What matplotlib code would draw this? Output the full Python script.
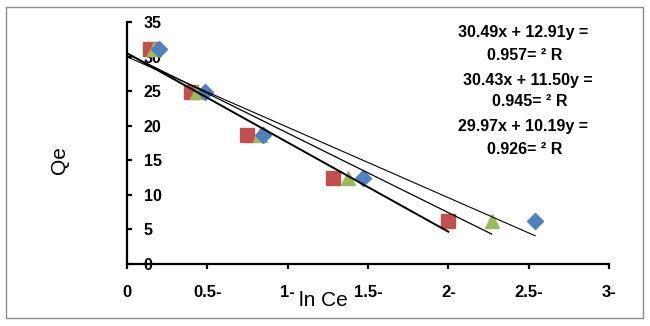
import matplotlib.pyplot as plt
import matplotlib.patches as mpatches

plt.rcParams['font.family'] = ['Liberation Sans', 'DejaVu Sans']

# data (ln Ce is negative, axis runs 0 -> -3)
qe = [31.1, 24.9, 18.7, 12.45, 6.2]
lnce_red = [-0.143, -0.40, -0.747, -1.28, -2.0]
lnce_green = [-0.17, -0.436, -0.83, -1.375, -2.27]
lnce_blue = [-0.199, -0.485, -0.846, -1.468, -2.54]

# trendlines y = slope*x + intercept
slopes = [12.91, 11.50, 10.19]
intercepts = [30.49, 30.43, 29.97]
r2 = [0.957, 0.945, 0.926]

xticks = [0, -0.5, -1, -1.5, -2, -2.5, -3]
xticklabels = ['0', '0.5-', '1-', '1.5-', '2-', '2.5-', '3-']
yticks = [0, 5, 10, 15, 20, 25, 30, 35]

W, H = 650, 326
fig = plt.figure(figsize=(6.5, 3.26), dpi=100)
ax = fig.add_axes([127 / W, 1 - 264 / H, 482 / W, 242 / H])

ax.plot(lnce_red, qe, 's', color='#C0504D', ms=9.5, zorder=2)
ax.plot(lnce_green, qe, '^', color='#9BBB59', ms=10, zorder=2)
ax.plot(lnce_blue, qe, 'D', color='#4F81BD', ms=8, zorder=2)

ends = [min(lnce_red), min(lnce_green), min(lnce_blue)]
widths = [1.4, 0.9, 0.8]
for m, b, e, lw in zip(slopes, intercepts, ends, widths):
    xs = [0, e]
    ax.plot(xs, [m * v + b for v in xs], color='black', lw=lw, zorder=3)

ax.set_xlim(0, -3)
ax.set_ylim(0, 35)
ax.set_xticks(xticks)
ax.set_xticklabels(xticklabels)
ax.set_yticks(yticks)

for s in ['top', 'right']:
    ax.spines[s].set_visible(False)
for s in ['left', 'bottom']:
    ax.spines[s].set_linewidth(1.6)

ax.tick_params(axis='x', direction='out', length=3.6, width=1.6, pad=11.5,
               labelsize=12)
ax.tick_params(axis='y', direction='in', length=3.6, width=1.6, pad=-12,
               labelsize=11.5)
for lab in ax.get_xticklabels() + ax.get_yticklabels():
    lab.set_fontweight('bold')
for lab in ax.get_yticklabels():
    lab.set_horizontalalignment('left')

fig.text(59 / W, 1 - 160 / H, 'Qe', rotation=90, fontsize=15,
         ha='center', va='center')
fig.text(323 / W, 1 - 300 / H, 'ln Ce', fontsize=15, ha='center', va='center')

eq_y = [33, 80, 127]
eq_x = [523, 528, 523]
for m, b, r, yy, xx in zip(slopes, intercepts, r2, eq_y, eq_x):
    fig.text(xx / W, 1 - yy / H, '%.2fx + %.2fy =' % (b, m), fontsize=11.5,
             fontweight='bold', ha='center', va='center')
    fig.text((xx + 2) / W, 1 - (yy + 22) / H, '%.3f= \u00b2 R' % r,
             fontsize=11.5, fontweight='bold', ha='center', va='center')

fig.patches.append(mpatches.Rectangle((6 / W, 1 - 318 / H), 637 / W, 311 / H,
                                      transform=fig.transFigure, fill=False,
                                      edgecolor='#8c8c8c', lw=1))

fig.savefig('out.png', dpi=100)
